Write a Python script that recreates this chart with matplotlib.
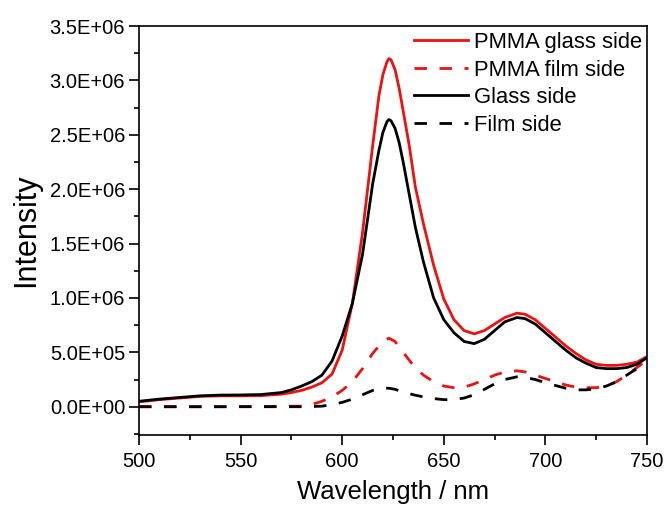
import numpy as np
import matplotlib
matplotlib.use("Agg")
import matplotlib.pyplot as plt
from matplotlib.ticker import MultipleLocator, FuncFormatter

plt.rcParams['font.family'] = ['Liberation Sans', 'DejaVu Sans']

# wavelength grid (nm) for the solid curves
wl = [500, 510, 520, 530, 540, 550, 560, 570, 575, 580, 585, 590, 595, 600,
      605, 610, 615, 618, 620, 622, 623, 624, 626, 628, 630, 633, 636, 640,
      645, 650, 655, 660, 665, 670, 675, 680, 686, 690, 695, 700, 705, 710,
      715, 720, 725, 730, 735, 740, 745, 750]

glass_side = [5.0e4, 7.0e4, 8.5e4, 1.0e5, 1.07e5, 1.08e5, 1.12e5, 1.3e5, 1.55e5,
              1.9e5, 2.3e5, 2.9e5, 4.2e5, 6.5e5, 9.5e5, 1.4e6, 2.05e6, 2.35e6,
              2.52e6, 2.62e6, 2.64e6, 2.63e6, 2.56e6, 2.43e6, 2.25e6, 1.95e6,
              1.65e6, 1.33e6, 1.0e6, 8.0e5, 6.8e5, 6.0e5, 5.8e5, 6.2e5, 7.0e5,
              7.8e5, 8.2e5, 8.1e5, 7.6e5, 6.8e5, 6.0e5, 5.2e5, 4.5e5, 4.0e5,
              3.6e5, 3.5e5, 3.5e5, 3.6e5, 3.9e5, 4.5e5]

pmma_glass_side = [4.5e4, 6.5e4, 8.0e4, 9.5e4, 1.0e5, 1.0e5, 1.02e5, 1.15e5,
                   1.3e5, 1.5e5, 1.8e5, 2.2e5, 3.0e5, 5.2e5, 9.5e5, 1.6e6,
                   2.4e6, 2.85e6, 3.05e6, 3.17e6, 3.2e6, 3.19e6, 3.1e6, 2.93e6,
                   2.72e6, 2.4e6, 2.02e6, 1.68e6, 1.3e6, 9.9e5, 8.0e5, 7.0e5,
                   6.7e5, 7.0e5, 7.6e5, 8.2e5, 8.6e5, 8.5e5, 8.0e5, 7.2e5,
                   6.4e5, 5.6e5, 4.9e5, 4.3e5, 3.9e5, 3.8e5, 3.8e5, 3.9e5,
                   4.1e5, 4.6e5]

# wavelength grid (nm) for the dashed curves
wl_d = [500, 520, 540, 560, 580, 585, 590, 595, 600, 605, 610, 615, 620, 623,
        626, 630, 635, 640, 645, 650, 655, 660, 665, 670, 675, 680, 686, 690,
        695, 700, 705, 710, 715, 720, 725, 730, 735, 740, 745, 750]

pmma_film_side = [0, 0, 0, 2e3, 5e3, 2e4, 5e4, 9e4, 1.5e5, 2.3e5, 3.5e5, 4.9e5,
                  6.0e5, 6.3e5, 6.0e5, 5.0e5, 3.8e5, 2.9e5, 2.3e5, 1.9e5,
                  1.75e5, 1.8e5, 2.1e5, 2.5e5, 2.9e5, 3.2e5, 3.3e5, 3.2e5,
                  2.9e5, 2.6e5, 2.3e5, 2.0e5, 1.8e5, 1.75e5, 1.75e5, 1.9e5,
                  2.3e5, 2.9e5, 3.6e5, 4.3e5]

film_side = [0, 0, 0, 0, 0, 2e3, 5e3, 2e4, 4e4, 7e4, 1.1e5, 1.5e5, 1.7e5,
             1.7e5, 1.6e5, 1.35e5, 1.1e5, 9e4, 7.5e4, 6.5e4, 6.5e4, 8e4,
             1.1e5, 1.6e5, 2.1e5, 2.5e5, 2.75e5, 2.7e5, 2.5e5, 2.2e5, 1.95e5,
             1.7e5, 1.55e5, 1.55e5, 1.65e5, 1.9e5, 2.3e5, 2.9e5, 3.5e5, 4.1e5]

fig = plt.figure(figsize=(6.67, 5.09), dpi=100)
ax = fig.add_axes([139 / 667, 1 - 435 / 509, 508 / 667, 409 / 509])

lw = 2.0
ax.plot(wl, pmma_glass_side, color='#ee1111', lw=lw, label='PMMA glass side')
ax.plot(wl_d, pmma_film_side, color='#ee1111', lw=lw, dashes=(4.5, 4.5), label='PMMA film side')
ax.plot(wl, glass_side, color='black', lw=lw, label='Glass side')
ax.plot(wl_d, film_side, color='black', lw=lw, dashes=(4.5, 4.5), label='Film side')

ax.set_xlim(500, 750)
ax.set_ylim(-2.6e5, 3.5e6)
ax.xaxis.set_major_locator(MultipleLocator(50))
ax.xaxis.set_minor_locator(MultipleLocator(25))
ax.yaxis.set_major_locator(MultipleLocator(5e5))
ax.yaxis.set_minor_locator(MultipleLocator(2.5e5))
ax.yaxis.set_major_formatter(FuncFormatter(lambda v, p: f"{v:.1E}"))
ax.tick_params(which='major', direction='out', length=7, width=1.2, labelsize=14.5, pad=3)
ax.tick_params(axis='x', which='major', pad=5)
ax.tick_params(which='minor', direction='out', length=3.5, width=1.2)
for s in ax.spines.values():
    s.set_linewidth(1.2)

ax.set_xlabel('Wavelength / nm', fontsize=18.5, labelpad=7)
ax.set_ylabel('Intensity', fontsize=22, labelpad=6)

ax.legend(loc='upper left', bbox_to_anchor=(414 / 667, 1 - 32 / 509),
          bbox_transform=fig.transFigure, frameon=False, fontsize=15.8,
          handlelength=2.45, handletextpad=0.3, labelspacing=0.3,
          borderpad=0, borderaxespad=0)

fig.savefig('out.png', dpi=100)
